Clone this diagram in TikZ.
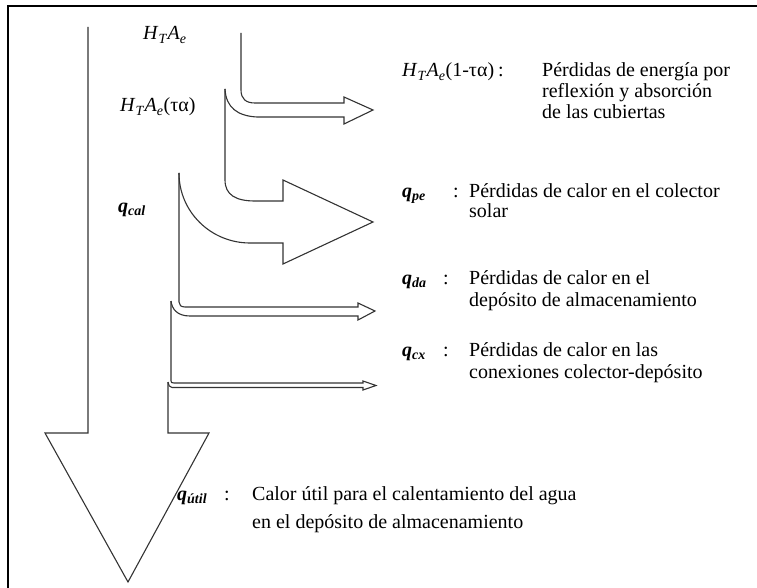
\documentclass[tikz,border=0pt]{standalone}
\usepackage{fontspec}
\setmainfont{Liberation Serif}
\newcommand\Hte{\textit{H}\textsubscript{\textit{T}}\textit{A}\textsubscript{\textit{e}}}
\newcommand\qlab[1]{\textbf{\textit{q}}\textsubscript{\textbf{\textit{#1}}}}
\begin{document}
\begin{tikzpicture}[x=1pt,y=-1pt,
  flow/.style={line width=1.1pt, draw=black!80, line join=miter},
  txt/.style={anchor=base west, inner sep=0pt, font=\fontsize{20}{22}\selectfont},
  frameline/.style={line width=2.2pt, draw=black}]
\useasboundingbox (0,0) rectangle (757,588);
% frame
\draw[frameline] (8,588) -- (8,6) -- (757,6);
% main flow and final arrow
\draw[flow] (88,27) -- (88,433) -- (45,433) -- (128,582) -- (209,433) -- (168,433) -- (168,382);
% branch 1: reflection losses
\draw[flow] (241,33) -- (241,90) .. controls (241,99) and (246,103) .. (255,103) -- (344,103) -- (344,97) -- (373,110) -- (344,124) -- (344,117) -- (257,117) .. controls (238,116) and (226,108) .. (225,89);
% branch 2: collector losses
\draw[flow] (225,89) -- (225,180) .. controls (225,195) and (236,201) .. (255,201) -- (283,201) -- (283,180) -- (373,222) -- (283,264) -- (283,243) -- (250,243) .. controls (211,243) and (179,212) .. (179,173);
% branch 3: storage losses
\draw[flow] (179,173) -- (179,302) .. controls (179,305) and (181,307) .. (185,307) -- (358,307) -- (358,303) -- (375,311) -- (358,320) -- (358,316) -- (190,316) .. controls (177,316) and (172,309) .. (171,301);
% branch 4: connection losses
\draw[flow] (171,301) -- (171,381) .. controls (171,382.5) and (172,383) .. (174,383) -- (363,383) -- (363,381) -- (376,385.5) -- (363,390) -- (363,387.5) -- (172,387.5) .. controls (170,387.5) and (168,385) .. (168,382);
% left labels
\node[txt] (h1) at (143,40) {\Hte};
\node[txt] (h2) at (120,112) {\Hte(τα)};
\node[txt] (qcal) at (118,212) {\qlab{cal}};
% right labels
\node[txt] (h3) at (402,77) {\Hte(1-τα)};
\node[txt] (c1) at (498,77) {:};
\node[txt] (t1a) at (542,77) {Pérdidas de energía por};
\node[txt] (t1b) at (542,98) {reflexión y absorción};
\node[txt] (t1c) at (542,119) {de las cubiertas};
\node[txt] (qpe) at (402,197) {\qlab{pe}};
\node[txt] (c2) at (453,197) {:};
\node[txt] (t2a) at (469,197) {Pérdidas de calor en el colector};
\node[txt] (t2b) at (469,218) {solar};
\node[txt] (qda) at (402,284) {\qlab{da}};
\node[txt] (c3) at (443,284) {:};
\node[txt] (t3a) at (469,284) {Pérdidas de calor en el};
\node[txt] (t3b) at (469,306) {depósito de almacenamiento};
\node[txt] (qcx) at (402,356) {\qlab{cx}};
\node[txt] (c4) at (443,356) {:};
\node[txt] (t4a) at (469,356) {Pérdidas de calor en las};
\node[txt] (t4b) at (469,378) {conexiones colector-depósito};
\node[txt] (qut) at (177,500) {\qlab{útil}};
\node[txt] (c5) at (224,500) {:};
\node[txt] (t5a) at (252,500) {Calor útil para el calentamiento del agua};
\node[txt] (t5b) at (252,528) {en el depósito de almacenamiento};
\end{tikzpicture}
\end{document}
